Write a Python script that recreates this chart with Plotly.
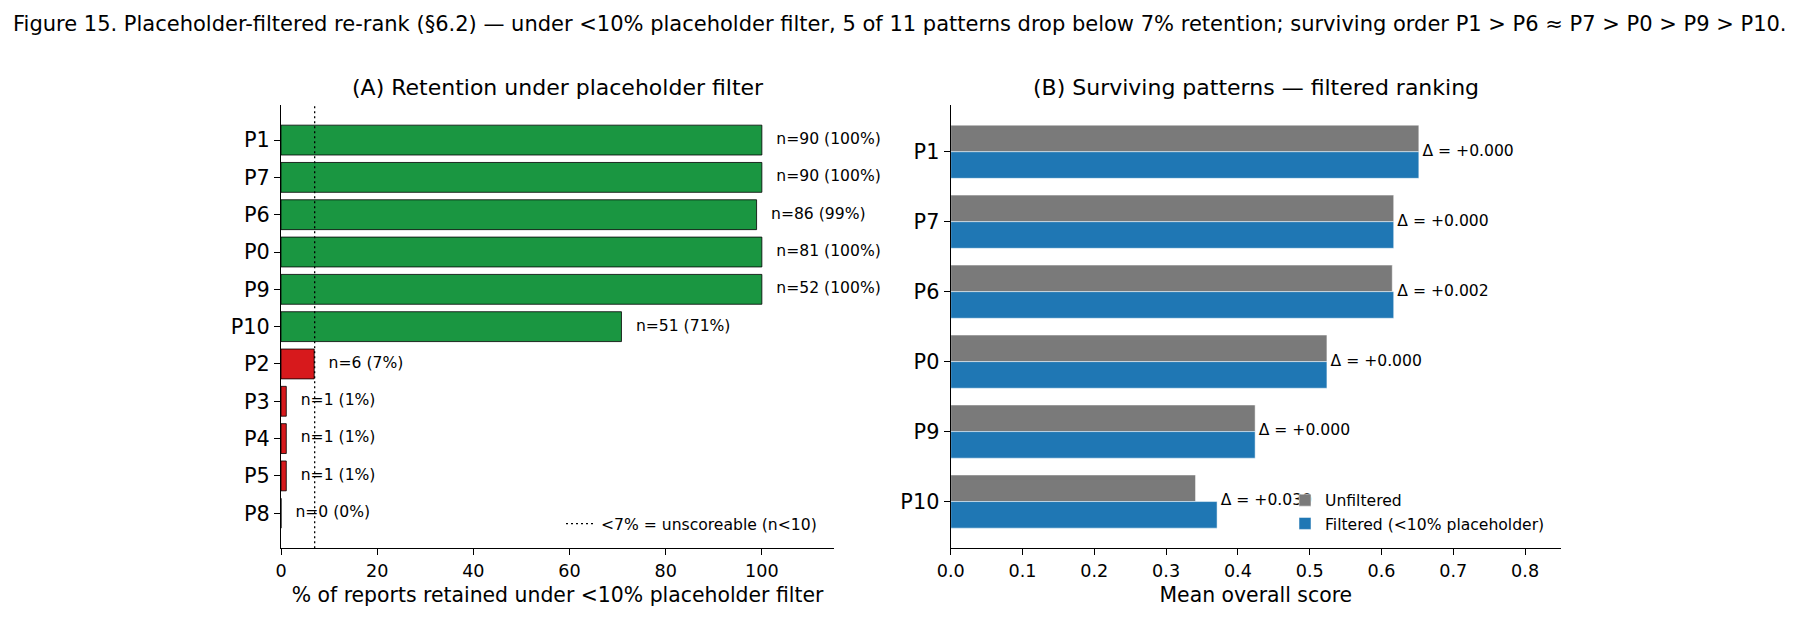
import plotly.graph_objects as go

W, H = 1800, 620

# ---------------- data ----------------
# Panel A: retention under placeholder filter
patterns_a = ["P1", "P7", "P6", "P0", "P9", "P10", "P2", "P3", "P4", "P5", "P8"]
n_retained = [90, 90, 86, 81, 52, 51, 6, 1, 1, 1, 0]
pct_retained = [100, 100, 98.9, 100, 100, 70.8, 6.9, 1.1, 1.1, 1.1, 0]
threshold_pct = 7
x_ticks_a = [0, 20, 40, 60, 80, 100]

# Panel B: surviving patterns, mean overall score
patterns_b = ["P1", "P7", "P6", "P0", "P9", "P10"]
score_unfiltered = [0.652, 0.617, 0.615, 0.524, 0.424, 0.341]
score_filtered = [0.652, 0.617, 0.617, 0.524, 0.424, 0.371]
x_ticks_b = [0.0, 0.1, 0.2, 0.3, 0.4, 0.5, 0.6, 0.7, 0.8]

# ---------------- styles ----------------
FONT = "DejaVu Sans"
GREEN = "#1a9641"
RED = "#d7191c"
GREY = "#7a7a7a"
BLUE = "#1f77b4"
XTICK_FS = 17.6
YTICK_FS = 20.8
LABEL_FS = 20.4
TITLE_FS = 22
SUPTITLE_FS = 21
ANN_FS = 15.6


def px_x(p):
    return p / W


def px_y(p):
    return 1 - p / H


idx_a = list(range(len(patterns_a)))
idx_b = list(range(len(patterns_b)))

fig = go.Figure()

# Panel A bars
colors_a = [GREEN if p >= threshold_pct else RED for p in pct_retained]
fig.add_trace(go.Bar(
    x=pct_retained, y=idx_a, orientation="h", width=0.8,
    marker=dict(color=colors_a, line=dict(color="black", width=0.8)),
    xaxis="x", yaxis="y", showlegend=False, hoverinfo="skip",
))
labels_a = [f"n={n} ({p:.0f}%)" for n, p in zip(n_retained, pct_retained)]
fig.add_trace(go.Scatter(
    x=[p + 3 for p in pct_retained], y=idx_a, mode="text", text=labels_a,
    textposition="middle right", textfont=dict(size=ANN_FS, color="black", family=FONT),
    xaxis="x", yaxis="y", showlegend=False, hoverinfo="skip", cliponaxis=False,
))
# legend entry for threshold line
fig.add_trace(go.Scatter(
    x=[None], y=[None], mode="lines",
    line=dict(color="black", width=1.3, dash="2px,3px"),
    name="&lt;7% = unscoreable (n&lt;10)", legend="legend",
    xaxis="x", yaxis="y", hoverinfo="skip",
))

# Panel B bars
fig.add_trace(go.Bar(
    x=score_unfiltered, y=idx_b, orientation="h", width=0.38, offset=-0.38,
    marker=dict(color=GREY, line=dict(color="white", width=0.5)),
    name="Unfiltered", legend="legend2", xaxis="x2", yaxis="y2", hoverinfo="skip",
))
fig.add_trace(go.Bar(
    x=score_filtered, y=idx_b, orientation="h", width=0.38, offset=0.0,
    marker=dict(color=BLUE, line=dict(color="white", width=0.5)),
    name="Filtered (&lt;10% placeholder)", legend="legend2", xaxis="x2", yaxis="y2",
    hoverinfo="skip",
))
labels_b = [f"Δ = {f - u:+.3f}" for u, f in zip(score_unfiltered, score_filtered)]
fig.add_trace(go.Scatter(
    x=[max(u, f) + 0.005 for u, f in zip(score_unfiltered, score_filtered)], y=idx_b,
    mode="text", text=labels_b, textposition="middle right",
    textfont=dict(size=ANN_FS, color="black", family=FONT),
    xaxis="x2", yaxis="y2", showlegend=False, hoverinfo="skip", cliponaxis=False,
))

# threshold line
fig.add_shape(type="line", xref="x", yref="y domain", x0=threshold_pct, x1=threshold_pct,
              y0=0, y1=1, line=dict(color="black", width=1.3, dash="2px,3px"))

axis_common = dict(
    showline=True, linecolor="black", linewidth=1.3, ticks="outside", ticklen=6,
    tickwidth=1.3, tickcolor="black", showgrid=False, zeroline=False,
)
xtick_font = dict(size=XTICK_FS, color="black", family=FONT)
ytick_font = dict(size=YTICK_FS, color="black", family=FONT)
ydom = [px_y(548.3), px_y(105)]

fig.update_layout(
    width=W, height=H,
    margin=dict(l=0, r=0, t=0, b=0, autoexpand=False),
    paper_bgcolor="white", plot_bgcolor="white",
    font=dict(family=FONT, color="black"),
    barmode="overlay",
    xaxis=dict(axis_common, domain=[px_x(281), px_x(834)], range=[0, 115],
               tickvals=x_ticks_a, anchor="y", tickfont=xtick_font,
               title=dict(text="% of reports retained under &lt;10% placeholder filter",
                          font=dict(size=LABEL_FS), standoff=8)),
    yaxis=dict(axis_common, domain=ydom, range=[10.94, -0.94], tickvals=idx_a,
               ticktext=patterns_a, anchor="x", tickfont=ytick_font),
    xaxis2=dict(axis_common, domain=[px_x(950.7), px_x(1561)], range=[0, 0.85],
                tickvals=x_ticks_b, tickformat=".1f", anchor="y2", tickfont=xtick_font,
                title=dict(text="Mean overall score", font=dict(size=LABEL_FS), standoff=8)),
    yaxis2=dict(axis_common, domain=ydom, range=[5.668, -0.668], tickvals=idx_b,
                ticktext=patterns_b, anchor="x2", tickfont=ytick_font),
    legend=dict(x=px_x(822), xanchor="right", y=px_y(524), yanchor="middle",
                bgcolor="rgba(0,0,0,0)", borderwidth=0,
                font=dict(size=ANN_FS, family=FONT, color="black")),
    legend2=dict(x=px_x(1550), xanchor="right", y=px_y(512), yanchor="middle",
                 bgcolor="rgba(0,0,0,0)", borderwidth=0, traceorder="normal",
                 font=dict(size=ANN_FS, family=FONT, color="black")),
    annotations=[
        dict(text="Figure 15. Placeholder-filtered re-rank (§6.2) — under &lt;10% placeholder filter, "
                  "5 of 11 patterns drop below 7% retention; surviving order "
                  "P1 &gt; P6 ≈ P7 &gt; P0 &gt; P9 &gt; P10.",
             x=0.5, y=px_y(24), xref="paper", yref="paper", xanchor="center",
             yanchor="middle", showarrow=False, font=dict(size=SUPTITLE_FS)),
        dict(text="(A) Retention under placeholder filter",
             x=px_x((281 + 834) / 2), y=px_y(87), xref="paper", yref="paper",
             xanchor="center", yanchor="middle", showarrow=False, font=dict(size=TITLE_FS)),
        dict(text="(B) Surviving patterns — filtered ranking",
             x=px_x((950.7 + 1561) / 2), y=px_y(87), xref="paper", yref="paper",
             xanchor="center", yanchor="middle", showarrow=False, font=dict(size=TITLE_FS)),
    ],
)

fig.write_html("out.html")
